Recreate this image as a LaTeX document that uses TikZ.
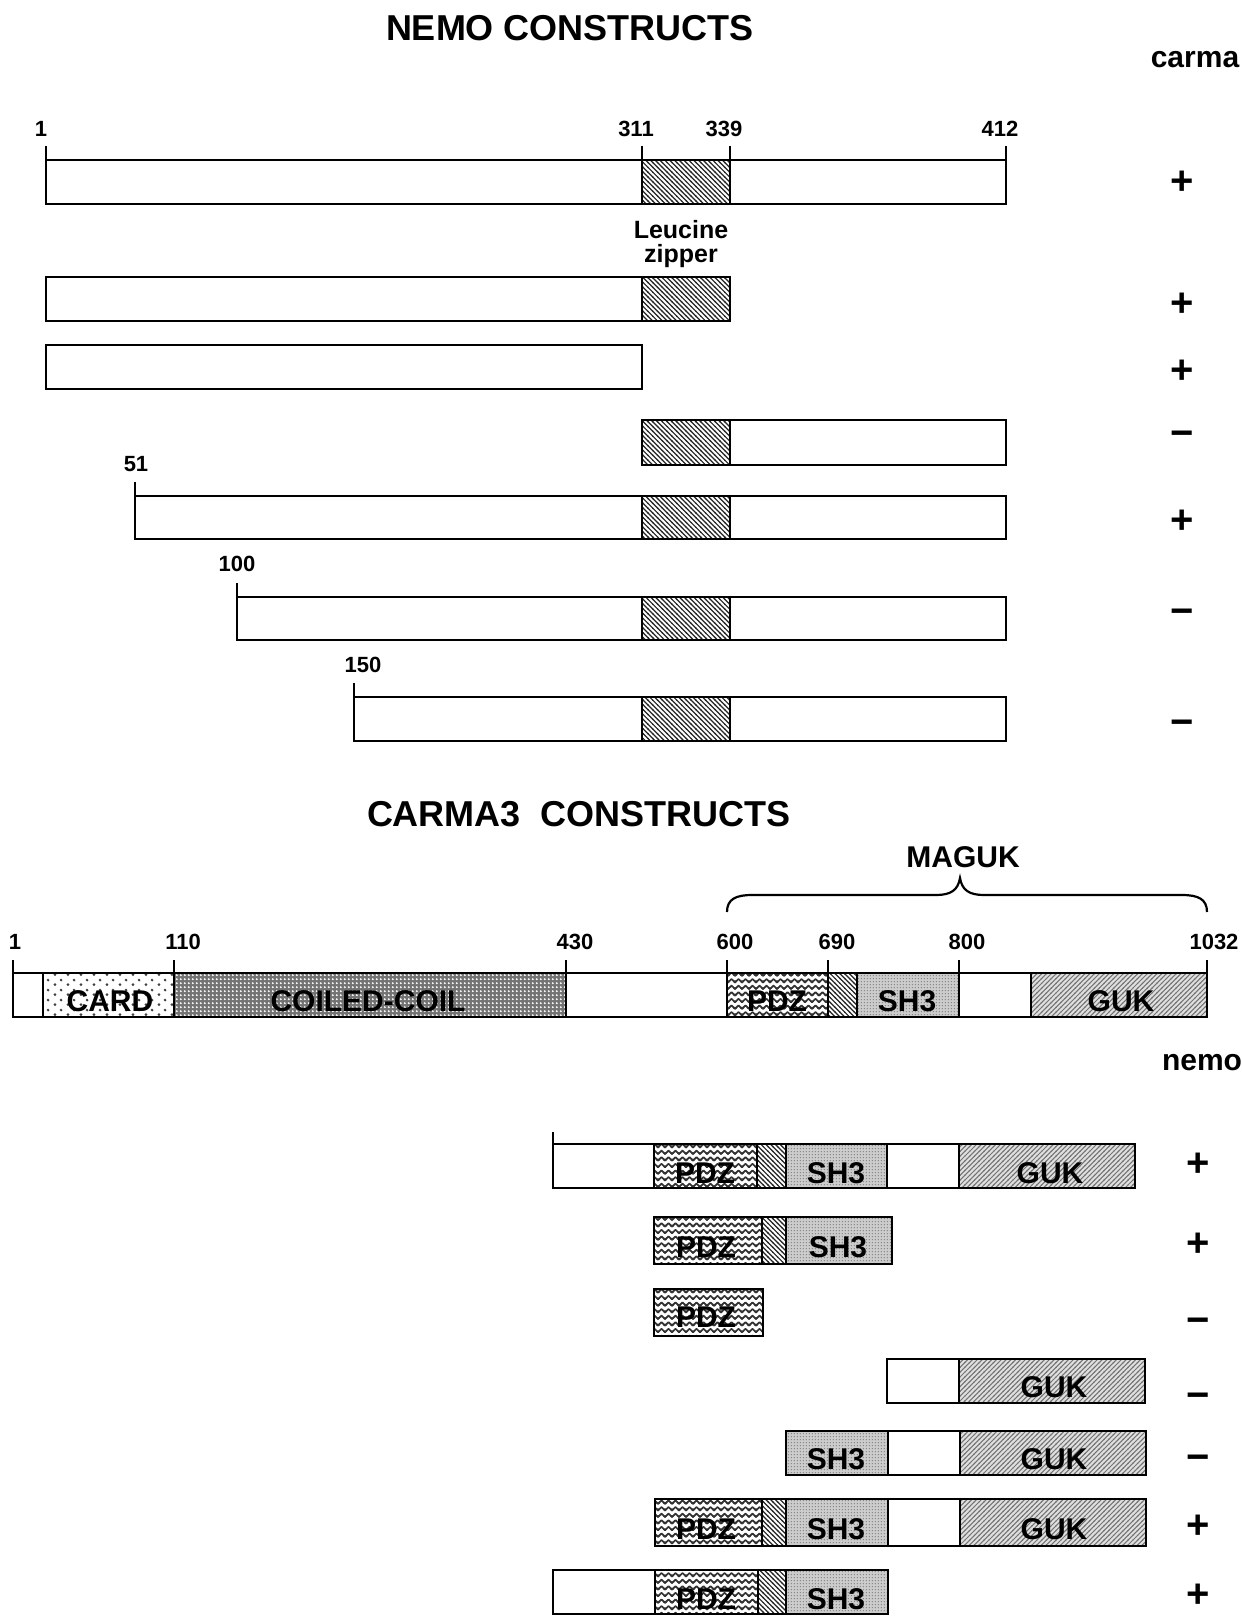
\documentclass[tikz,border=0pt]{standalone}
\usepackage{fontspec}
\setmainfont{Liberation Sans}
\usetikzlibrary{patterns}

\pgfdeclarepatternformonly{lzhatch}{\pgfqpoint{-1pt}{-1pt}}{\pgfqpoint{3.5pt}{3.5pt}}{\pgfqpoint{2.4pt}{2.4pt}}{%
  \pgfsetlinewidth{0.6pt}%
  \pgfpathmoveto{\pgfqpoint{-0.2pt}{2.6pt}}%
  \pgfpathlineto{\pgfqpoint{2.6pt}{-0.2pt}}%
  \pgfusepath{stroke}}
\pgfdeclarepatternformonly{gukhatch}{\pgfqpoint{-1pt}{-1pt}}{\pgfqpoint{3.5pt}{3.5pt}}{\pgfqpoint{2.4pt}{2.4pt}}{%
  \pgfsetlinewidth{0.5pt}%
  \pgfpathmoveto{\pgfqpoint{-0.2pt}{-0.2pt}}%
  \pgfpathlineto{\pgfqpoint{2.6pt}{2.6pt}}%
  \pgfusepath{stroke}}
\pgfdeclarepatternformonly{zigzag}{\pgfqpoint{-1pt}{-1pt}}{\pgfqpoint{4.5pt}{4.5pt}}{\pgfqpoint{3.5pt}{3.3pt}}{%
  \pgfsetlinewidth{0.85pt}\pgfsetroundjoin
  \pgfpathmoveto{\pgfqpoint{-0.875pt}{1.35pt}}%
  \pgfpathlineto{\pgfqpoint{0pt}{0.5pt}}%
  \pgfpathlineto{\pgfqpoint{1.75pt}{2.2pt}}%
  \pgfpathlineto{\pgfqpoint{3.5pt}{0.5pt}}%
  \pgfpathlineto{\pgfqpoint{4.375pt}{1.35pt}}%
  \pgfusepath{stroke}}
\pgfdeclarepatternformonly{finedots}{\pgfqpoint{0pt}{0pt}}{\pgfqpoint{1.6pt}{1.6pt}}{\pgfqpoint{1.6pt}{1.6pt}}{%
  \pgfpathcircle{\pgfqpoint{0.8pt}{0.8pt}}{0.35pt}\pgfusepath{fill}}
\pgfdeclarepatternformonly{coildots}{\pgfqpoint{0pt}{0pt}}{\pgfqpoint{1.9pt}{1.9pt}}{\pgfqpoint{1.9pt}{1.9pt}}{%
  \pgfpathcircle{\pgfqpoint{0.95pt}{0.95pt}}{0.58pt}\pgfusepath{fill}}
\pgfdeclarepatternformonly{carddots}{\pgfqpoint{0pt}{0pt}}{\pgfqpoint{6.5pt}{5pt}}{\pgfqpoint{6.5pt}{5pt}}{%
  \pgfpathcircle{\pgfqpoint{1.6pt}{1.25pt}}{0.8pt}%
  \pgfpathcircle{\pgfqpoint{4.85pt}{3.75pt}}{0.8pt}\pgfusepath{fill}}

\tikzset{
  seg/.style={draw=black, line width=1.1pt},
  wseg/.style={seg, fill=white},
  lzseg/.style={seg, preaction={fill=white}, pattern=lzhatch, pattern color=black!85},
  gukseg/.style={seg, preaction={fill=gray!25}, pattern=gukhatch, pattern color=black!55},
  shseg/.style={seg, preaction={fill=gray!40}, pattern=finedots, pattern color=black!55},
  pdzseg/.style={seg, preaction={fill=white}, pattern=zigzag, pattern color=black!80},
  cardseg/.style={seg, preaction={fill=white}, pattern=carddots, pattern color=black!75},
  coilseg/.style={seg, preaction={fill=black!55}, pattern=coildots, pattern color=white},
  tickln/.style={line width=1.1pt},
  num/.style={anchor=base, inner sep=0pt, font=\fontsize{11}{13}\selectfont\bfseries},
  dlbl/.style={anchor=base, inner sep=0pt, font=\fontsize{15}{18}\selectfont\bfseries},
  ttl/.style={anchor=base, inner sep=0pt, font=\fontsize{18}{21}\selectfont\bfseries},
  hdr/.style={anchor=base, inner sep=0pt, font=\fontsize{15}{18}\selectfont\bfseries},
  lzlbl/.style={anchor=base, inner sep=0pt, font=\fontsize{12.5}{15}\selectfont\bfseries},
  sgn/.style={anchor=base, inner sep=0pt, font=\fontsize{20}{24}\selectfont\bfseries},
}

\begin{document}
\begin{tikzpicture}[x=0.5pt,y=-0.5pt]
\path[use as bounding box, fill=white] (0,0) rectangle (1242,1617);

% ---------------- NEMO ----------------
\node[ttl] (nemotitle) at (570,40) {NEMO CONSTRUCTS};
\node[hdr] (carmahdr) at (1195,67) {carma};

% bar 1
\draw[wseg] (46,160) rectangle (642,204);
\draw[lzseg] (642,160) rectangle (730,204);
\draw[wseg] (730,160) rectangle (1006,204);
\foreach \x in {46,642,730,1006} \draw[tickln] (\x,146) -- (\x,160);
\node[num] (nl1) at (41,136) {1};
\node[num] (nl311) at (636,136) {311};
\node[num] (nl339) at (724,136) {339};
\node[num] (nl412) at (1000,136) {412};
\node[lzlbl] (lza) at (681,238) {Leucine};
\node[lzlbl] (lzb) at (681,262) {zipper};

% bar 2
\draw[wseg] (46,277) rectangle (642,321);
\draw[lzseg] (642,277) rectangle (730,321);
% bar 3
\draw[wseg] (46,345) rectangle (642,389);
% bar 4
\draw[lzseg] (642,420) rectangle (730,465);
\draw[wseg] (730,420) rectangle (1006,465);
% bar 5
\draw[wseg] (135,496) rectangle (642,539);
\draw[lzseg] (642,496) rectangle (730,539);
\draw[wseg] (730,496) rectangle (1006,539);
\draw[tickln] (135,482) -- (135,496);
\node[num] (nl51) at (136,471) {51};
% bar 6
\draw[wseg] (237,597) rectangle (642,640);
\draw[lzseg] (642,597) rectangle (730,640);
\draw[wseg] (730,597) rectangle (1006,640);
\draw[tickln] (237,583) -- (237,597);
\node[num] (nl100) at (237,571.5) {100};
% bar 7
\draw[wseg] (354,697) rectangle (642,741);
\draw[lzseg] (642,697) rectangle (730,741);
\draw[wseg] (730,697) rectangle (1006,741);
\draw[tickln] (354,683) -- (354,697);
\node[num] (nl150) at (363,672) {150};

% signs (carma)
\node[sgn] (sa1) at (1182,194) {+};
\node[sgn] (sa2) at (1182,316) {+};
\node[sgn] (sa3) at (1182,383) {+};
\node[sgn] (sa4) at (1182,446) {−};
\node[sgn] (sa5) at (1182,533) {+};
\node[sgn] (sa6) at (1182,624) {−};
\node[sgn] (sa7) at (1182,735) {−};

% ---------------- CARMA3 ----------------
\node[ttl] (carmatitle) at (579,826) {CARMA3\ \ CONSTRUCTS};
\node[dlbl] (maguk) at (963,867) {MAGUK};
\draw[line width=1.1pt] (727,912) .. controls (727,899) and (736,895) .. (752,895)
  -- (936,895) .. controls (951,895) and (958,890) .. (960,878)
  .. controls (962,890) and (969,895) .. (984,895)
  -- (1182,895) .. controls (1198,895) and (1207,899) .. (1207,912);

\draw[wseg] (13,973) rectangle (43,1017);
\draw[cardseg] (43,973) rectangle (174,1017);
\draw[coilseg] (174,973) rectangle (566,1017);
\draw[wseg] (566,973) rectangle (727,1017);
\draw[pdzseg] (727,973) rectangle (828,1017);
\draw[lzseg] (828,973) rectangle (857,1017);
\draw[shseg] (857,973) rectangle (959,1017);
\draw[wseg] (959,973) rectangle (1031,1017);
\draw[gukseg] (1031,973) rectangle (1207,1017);
\foreach \x in {13,174,566,727,828,959,1207} \draw[tickln] (\x,960) -- (\x,973);
\node[num] (cl1) at (15,949) {1};
\node[num] (cl110) at (183,949) {110};
\node[num] (cl430) at (575,949) {430};
\node[num] (cl600) at (735,949) {600};
\node[num] (cl690) at (837,949) {690};
\node[num] (cl800) at (967,949) {800};
\node[num] (cl1032) at (1214,949) {1032};
\node[dlbl] (tcard) at (110,1011) {CARD};
\node[dlbl] (tcoil) at (368,1011) {COILED-COIL};
\node[dlbl] (tpdz0) at (777,1011) {PDZ};
\node[dlbl] (tsh0) at (907,1011) {SH3};
\node[dlbl] (tguk0) at (1121,1011) {GUK};

\node[hdr] (nemohdr) at (1202,1070) {nemo};

% row 1
\draw[wseg] (553,1144) rectangle (654,1188);
\draw[pdzseg] (654,1144) rectangle (757,1188);
\draw[lzseg] (757,1144) rectangle (786,1188);
\draw[shseg] (786,1144) rectangle (887,1188);
\draw[wseg] (887,1144) rectangle (959,1188);
\draw[gukseg] (959,1144) rectangle (1135,1188);
\draw[tickln] (553,1132) -- (553,1144);
\node[dlbl] (tpdz1) at (705,1183) {PDZ};
\node[dlbl] (tsh1) at (836,1183) {SH3};
\node[dlbl] (tguk1) at (1050,1183) {GUK};
% row 2
\draw[pdzseg] (654,1217) rectangle (762,1264);
\draw[lzseg] (762,1217) rectangle (786,1264);
\draw[shseg] (786,1217) rectangle (892,1264);
\node[dlbl] (tpdz2) at (706,1257) {PDZ};
\node[dlbl] (tsh2) at (838,1257) {SH3};
% row 3
\draw[pdzseg] (654,1289) rectangle (763,1336);
\node[dlbl] (tpdz3) at (706,1327) {PDZ};
% row 4
\draw[wseg] (887,1359) rectangle (959,1403);
\draw[gukseg] (959,1359) rectangle (1145,1403);
\node[dlbl] (tguk4) at (1054,1397) {GUK};
% row 5
\draw[shseg] (786,1431) rectangle (888,1475);
\draw[wseg] (888,1431) rectangle (960,1475);
\draw[gukseg] (960,1431) rectangle (1146,1475);
\node[dlbl] (tsh5) at (836,1469) {SH3};
\node[dlbl] (tguk5) at (1054,1469) {GUK};
% row 6
\draw[pdzseg] (655,1499) rectangle (762,1546);
\draw[lzseg] (762,1499) rectangle (786,1546);
\draw[shseg] (786,1499) rectangle (888,1546);
\draw[wseg] (888,1499) rectangle (960,1546);
\draw[gukseg] (960,1499) rectangle (1146,1546);
\node[dlbl] (tpdz6) at (706,1539) {PDZ};
\node[dlbl] (tsh6) at (836,1539) {SH3};
\node[dlbl] (tguk6) at (1054,1539) {GUK};
% row 7
\draw[wseg] (553,1570) rectangle (655,1614);
\draw[pdzseg] (655,1570) rectangle (758,1614);
\draw[lzseg] (758,1570) rectangle (786,1614);
\draw[shseg] (786,1570) rectangle (888,1614);
\node[dlbl] (tpdz7) at (706,1609) {PDZ};
\node[dlbl] (tsh7) at (836,1609) {SH3};

% signs (nemo)
\node[sgn] (sb1) at (1198,1176) {+};
\node[sgn] (sb2) at (1198,1256) {+};
\node[sgn] (sb3) at (1198,1333) {−};
\node[sgn] (sb4) at (1198,1408) {−};
\node[sgn] (sb5) at (1198,1470) {−};
\node[sgn] (sb6) at (1198,1538) {+};
\node[sgn] (sb7) at (1198,1607) {+};
\end{tikzpicture}
\end{document}
